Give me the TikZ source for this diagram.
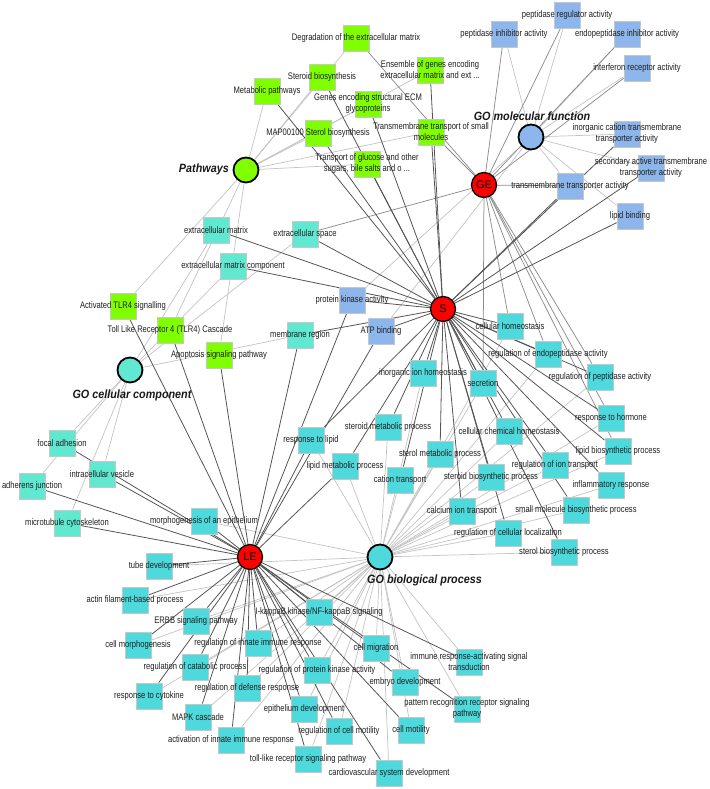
\documentclass[tikz,border=0pt]{standalone}
\usepackage{fontspec}
\setmainfont{Liberation Sans}
\newfontfamily\lblfont{Liberation Sans}[FakeStretch=0.8]
\newfontfamily\hubfont{Liberation Sans}[FakeStretch=0.9]
\usetikzlibrary{backgrounds}
\definecolor{pwgreen}{RGB}{128,255,0}
\definecolor{mfblue}{RGB}{141,182,236}
\definecolor{ccteal}{RGB}{96,232,208}
\definecolor{bpcyan}{RGB}{78,218,220}
\definecolor{edgedark}{RGB}{85,85,85}
\definecolor{edgemid}{RGB}{140,140,140}
\definecolor{edgelight}{RGB}{195,195,195}
\definecolor{hubred}{RGB}{255,0,0}
\pgfdeclarelayer{labels}
\pgfsetlayers{background,main,labels}
\newcommand\term[4]{\node[#1] (#2) at (#3) {};
  \begin{pgfonlayer}{labels}\node[lab] (#2-l) at (#2) {#4};\end{pgfonlayer}}
\tikzset{
  termbox/.style={draw=black!22, line width=0.3pt, minimum size=26.5pt, inner sep=0pt},
  gp/.style={termbox, fill=pwgreen},
  mf/.style={termbox, fill=mfblue},
  cc/.style={termbox, fill=ccteal},
  bp/.style={termbox, fill=bpcyan},
  lab/.style={font=\lblfont\fontsize{9.5}{11}\selectfont, text=black!88, align=center, inner sep=0pt},
  cathub/.style={circle, draw=black, line width=1.8pt, minimum size=25pt, inner sep=0pt},
  genehub/.style={circle, draw=black, line width=1.3pt, fill=hubred, minimum size=25pt, inner sep=0pt, font=\fontsize{11}{12}\selectfont},
  hublab/.style={font=\hubfont\bfseries\itshape\fontsize{12}{14}\selectfont, text=black!90, inner sep=0pt},
  catedge/.style={draw=edgelight, line width=0.7pt},
  geedge/.style={draw=edgemid, line width=0.75pt},
  genedge/.style={draw=edgedark, line width=0.8pt}
}
\begin{document}
\begin{tikzpicture}[x=1pt,y=-1pt]
\useasboundingbox (0,0) rectangle (709,789);
% hubs
\node[cathub, fill=pwgreen] (pathways) at (246,170) {};
\node[hublab, anchor=east] (pathways-l) at (229,169) {Pathways};
\node[cathub, fill=mfblue] (gomf) at (531,137) {};
\node[hublab] (gomf-l) at (532,116) {GO molecular function};
\node[cathub, fill=ccteal] (gocc) at (130,370) {};
\node[hublab] (gocc-l) at (132,395) {GO cellular component};
\node[cathub, fill=bpcyan] (gobp) at (380,557) {};
\node[hublab, anchor=west] (gobp-l) at (367,580) {GO biological process};
\node[genehub] (GE) at (484,185) {GE};
\node[genehub] (S) at (443,309) {S};
\node[genehub] (LE) at (250,557) {LE};
% pathways
\term{gp}{degr}{356,38}{Degradation of the extracellular matrix}
\term{gp}{stbio}{322,77}{Steroid biosynthesis}
\term{gp}{metab}{267,91}{Metabolic pathways}
\term{gp}{map}{318,133}{MAP00100 Sterol biosynthesis}
\term{gp}{genes}{368,104}{Genes encoding structural ECM\\glycoproteins}
\term{gp}{transp}{367,164}{Transport of glucose and other\\sugars, bile salts and o ...}
\term{gp}{ensem}{430,70}{Ensemble of genes encoding\\extracellular matrix and ext ...}
\term{gp}{tmsm}{431,132}{Transmembrane transport of small\\molecules}
\term{gp}{atlr}{123,306}{Activated TLR4 signalling}
\term{gp}{tlr}{170,330}{Toll Like Receptor 4 (TLR4) Cascade}
\term{gp}{apop}{219,355}{Apoptosis signaling pathway}
% molecular function
\term{mf}{pepreg}{567,15}{peptidase regulator activity}
\term{mf}{pepinh}{504,34}{peptidase inhibitor activity}
\term{mf}{endoinh}{627,34}{endopeptidase inhibitor activity}
\term{mf}{ifn}{637,68}{interferon receptor activity}
\term{mf}{inorgc}{627,134}{inorganic cation transmembrane\\transporter activity}
\term{mf}{secact}{651,168}{secondary active transmembrane\\transporter activity}
\term{mf}{tmta}{570,186}{transmembrane transporter activity}
\term{mf}{lipb}{630,216}{lipid binding}
\term{mf}{pka}{352,300}{protein kinase activity}
\term{mf}{atp}{381,331}{ATP binding}
% cellular component
\term{cc}{ecm}{216,230}{extracellular matrix}
\term{cc}{ecs}{305,234}{extracellular space}
\term{cc}{ecmc}{233,266}{extracellular matrix component}
\term{cc}{memb}{300,335}{membrane region}
\term{cc}{focal}{62,443}{focal adhesion}
\term{cc}{icv}{102,474}{intracellular vesicle}
\term{cc}{adh}{32,486}{adherens junction}
\term{cc}{mtc}{67,523}{microtubule cytoskeleton}
% biological process
\term{bp}{cellh}{510,326}{cellular homeostasis}
\term{bp}{regendo}{548,354}{regulation of endopeptidase activity}
\term{bp}{regpep}{600,377}{regulation of peptidase activity}
\term{bp}{inorgh}{423,373}{inorganic ion homeostasis}
\term{bp}{secr}{483,383}{secretion}
\term{bp}{stmeta}{388,427}{steroid metabolic process}
\term{bp}{resplip}{311,440}{response to lipid}
\term{bp}{lipmeta}{345,466}{lipid metabolic process}
\term{bp}{cchem}{509,431}{cellular chemical homeostasis}
\term{bp}{sterm}{440,454}{sterol metabolic process}
\term{bp}{catt}{400,480}{cation transport}
\term{bp}{stbios}{491,477}{steroid biosynthetic process}
\term{bp}{region}{555,465}{regulation of ion transport}
\term{bp}{resphorm}{611,418}{response to hormone}
\term{bp}{lipbio}{618,451}{lipid biosynthetic process}
\term{bp}{inflam}{611,485}{inflammatory response}
\term{bp}{smbio}{576,510}{small molecule biosynthetic process}
\term{bp}{calc}{462,511}{calcium ion transport}
\term{bp}{regloc}{508,533}{regulation of cellular localization}
\term{bp}{sterbio}{564,552}{sterol biosynthetic process}
\term{bp}{morph}{204,521}{morphogenesis of an epithelium}
\term{bp}{tube}{159,566}{tube development}
\term{bp}{actin}{135,600}{actin filament-based process}
\term{bp}{erbb}{196,621}{ERBB signaling pathway}
\term{bp}{cellmorph}{138,645}{cell morphogenesis}
\term{bp}{reginn}{258,643}{regulation of innate immune response}
\term{bp}{regcat}{195,667}{regulation of catabolic process}
\term{bp}{regdef}{247,688}{regulation of defense response}
\term{bp}{respcyt}{149,696}{response to cytokine}
\term{bp}{mapk}{198,717}{MAPK cascade}
\term{bp}{actinn}{231,740}{activation of innate immune response}
\term{bp}{epith}{304,709}{epithelium development}
\term{bp}{tollr}{308,759}{toll-like receptor signaling pathway}
\term{bp}{ikb}{319,612}{I-kappaB kinase/NF-kappaB signaling}
\term{bp}{regpka}{317,670}{regulation of protein kinase activity}
\term{bp}{regmot}{339,731}{regulation of cell motility}
\term{bp}{cmig}{376,648}{cell migration}
\term{bp}{embryo}{405,682}{embryo development}
\term{bp}{cmot}{411,730}{cell motility}
\term{bp}{cardio}{389,773}{cardiovascular system development}
\term{bp}{immune}{469,662}{immune response-activating signal\\transduction}
\term{bp}{pattern}{467,709}{pattern recognition receptor signaling\\pathway}
% edges
\begin{pgfonlayer}{background}
\foreach \t in {degr,stbio,metab,map,genes,transp,ensem,tmsm,atlr,tlr,apop}
  \draw[catedge] (pathways) -- (\t);
\foreach \t in {pepreg,pepinh,endoinh,ifn,inorgc,secact,tmta,lipb,pka,atp}
  \draw[catedge] (gomf) -- (\t);
\foreach \t in {ecm,ecs,ecmc,memb,focal,icv,adh,mtc}
  \draw[catedge] (gocc) -- (\t);
\foreach \t in {cellh,regendo,regpep,inorgh,secr,stmeta,resplip,lipmeta,cchem,sterm,catt,stbios,region,resphorm,lipbio,inflam,smbio,calc,regloc,sterbio,morph,tube,actin,erbb,cellmorph,reginn,regcat,regdef,respcyt,mapk,actinn,epith,tollr,ikb,regpka,regmot,cmig,embryo,cmot,cardio,immune,pattern}
  \draw[catedge] (gobp) -- (\t);
\foreach \t in {degr,tmsm,pepinh,pepreg,ifn,endoinh,tmta,ecs,cellh,secr,regendo,regpep,resphorm,lipbio}
  \draw[geedge] (GE) -- (\t);
\foreach \t in {metab,stbio,map,genes,transp,ensem,tmsm,ecm,ecs,ecmc,memb,pka,atp,inorgc,tmta,secact,lipb,cellh,regendo,regpep,inorgh,secr,stmeta,resplip,lipmeta,cchem,sterm,catt,stbios,region,resphorm,lipbio,inflam,smbio,calc,regloc,sterbio}
  \draw[genedge] (S) -- (\t);
\foreach \t in {atlr,tlr,apop,focal,icv,adh,mtc,memb,pka,atp,resplip,lipmeta,morph,tube,actin,erbb,cellmorph,reginn,regcat,regdef,respcyt,mapk,actinn,epith,tollr,ikb,regpka,regmot,cmig,embryo,cmot,cardio,immune,pattern}
  \draw[genedge] (LE) -- (\t);
\end{pgfonlayer}
\end{tikzpicture}
\end{document}
